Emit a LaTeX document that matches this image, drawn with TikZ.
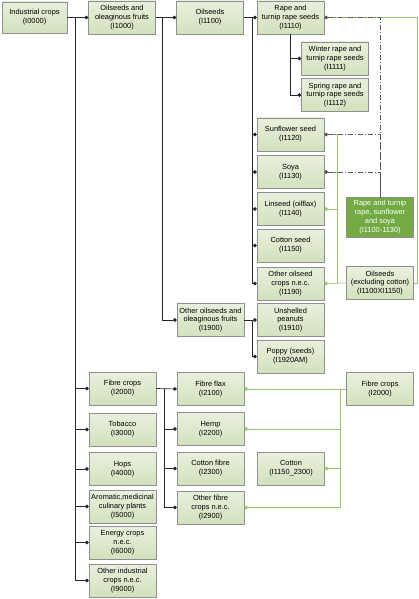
\documentclass[tikz,border=0pt]{standalone}
\usepackage{fontspec}
\setmainfont{Liberation Sans}
\usepackage{xcolor}
\usetikzlibrary{positioning, arrows.meta, shadows}

\definecolor{boxtop}{HTML}{E8F0DD}
\definecolor{boxbot}{HTML}{D2E1BD}
\definecolor{boxline}{HTML}{8F8F8F}
\definecolor{darkbox}{HTML}{74AA44}
\definecolor{linkgreen}{HTML}{98C66C}

\begin{document}
\begin{tikzpicture}[x=1pt, y=-1pt,
    box/.style={draw=boxline, line width=0.7pt, top color=boxtop, bottom color=boxbot,
      minimum width=67pt, minimum height=33pt, inner sep=0.5pt, align=center,
      font=\fontsize{7.4}{8.9}\selectfont,
      drop shadow={shadow xshift=0.8pt, shadow yshift=-0.8pt, fill=black!40, opacity=0.5}},
    sumbox/.style={box, top color=darkbox, bottom color=darkbox, text=white, minimum height=40pt},
    tree/.style={draw=black!85, line width=0.7pt, -{Circle[length=3.6pt]}},
    grn/.style={draw=linkgreen, line width=0.7pt, {Circle[length=3.6pt]}-},
    dd/.style={draw=black!65, line width=0.7pt, dash pattern=on 5pt off 2pt on 1pt off 2pt, {Circle[length=3.6pt]}-}]

      \useasboundingbox (0,0) rectangle (419,599);

      \node[box, minimum width=65pt, minimum height=31pt] (ind) at (34.5,17.5) {Industrial crops\\(I0000)};
      \node[box] (ofr) at (122,17.5) {Oilseeds and\\oleaginous fruits\\(I1000)};
      \node[box] (fib) at (122.5,388.5) {Fibre crops\\(I2000)};
      \node[box] (tob) at (122.5,429.5) {Tobacco\\(I3000)};
      \node[box] (hop) at (122.5,469) {Hops\\(I4000)};
      \node[box] (aro) at (122.5,506.5) {Aromatic,medicinal\\culinary plants\\(I5000)};
      \node[box] (ene) at (122.5,542.5) {Energy crops\\n.e.c.\\(I6000)};
      \node[box] (oic) at (122.5,580.5) {Other industrial\\crops n.e.c.\\(I9000)};

      \node[box] (oil) at (210,17.5) {Oilseeds\\(I1100)};
      \node[box] (oof) at (210.5,320) {Other oilseeds and\\oleaginous fruits\\(I1900)};
      \node[box] (ffl) at (210.5,389) {Fibre flax\\(I2100)};
      \node[box] (hem) at (210.5,429) {Hemp\\(I2200)};
      \node[box] (cfi) at (210.5,468.5) {Cotton fibre\\(I2300)};
      \node[box] (ofc) at (210.5,507.5) {Other fibre\\crops n.e.c.\\(I2900)};

      \node[box] (rap) at (290.5,17.5) {Rape and\\turnip rape seeds\\(I1110)};
      \node[box] (win) at (335,58.5) {Winter rape and\\turnip rape seeds\\(I1111)};
      \node[box] (spr) at (335,95) {Spring rape and\\turnip rape seeds\\(I1112)};
      \node[box] (sun) at (290.5,134.5) {Sunflower seed\\(I1120)};
      \node[box] (soy) at (290.5,172) {Soya\\(I1130)};
      \node[box] (lin) at (290.5,209) {Linseed (oilflax)\\(I1140)};
      \node[box] (cot) at (290.5,245.5) {Cotton seed\\(I1150)};
      \node[box] (ooc) at (290.5,283.5) {Other oilseed\\crops n.e.c.\\(I1190)};
      \node[box] (pea) at (290.5,320) {Unshelled\\peanuts\\(I1910)};
      \node[box] (pop) at (290.5,356.5) {Poppy (seeds)\\(I1920AM)};
      \node[box] (ctn) at (291,468.5) {Cotton\\(I1150\_2300)};

      \node[sumbox] (rts) at (380,217) {Rape and turnip\\rape, sunflower\\and soya\\(I1100-1130)};
      \node[box] (oec) at (380,283) {Oilseeds\\(excluding cotton)\\(I1100XI1150)};
      \node[box] (fcr) at (380,389) {Fibre crops\\(I2000)};

      \coordinate (t1) at (75,17.5);
      \coordinate (t2) at (162,17.5);
      \coordinate (t3) at (252,17.5);
      \coordinate (t5) at (252,320);
      \coordinate (t6) at (164,388.5);

      \draw[tree] (ind.east)--(ofr.west);
      \foreach \c in {fib, tob, hop, aro, ene, oic}
        \draw[tree] (t1) |- (\c.west);

      \draw[tree] (ofr.east)--(oil.west);
      \draw[tree] (t2) |- (oof.west);

      \draw[tree] (oil.east)--(rap.west);
      \foreach \c in {sun, soy, lin, cot, ooc}
        \draw[tree] (t3) |- (\c.west);
      \draw[tree] (rap.south) |- (win.west);
      \draw[tree] (rap.south) |- (spr.west);

      \draw[tree] (oof.east)--(pea.west);
      \draw[tree] (t5) |- (pop.west);

      \draw[tree] (fib.east)--(ffl.west);
      \foreach \c in {hem, cfi, ofc}
        \draw[tree] (t6) |- (\c.west);

      \coordinate (g1) at (337,283);
      \coordinate (g2) at (417,17.5);
      \coordinate (g3) at (340,389);
      \draw[grn] (ooc.east)--(oec.west);
      \foreach \c in {sun, soy, lin}
        \draw[grn] (\c.east) -| (g1);
      \draw[grn] (rap.east)--(g2) |- (oec.east);
      \draw[grn] (ffl.east)--(fcr.west);
      \foreach \c in {hem, ctn, ofc}
        \draw[grn] (\c.east) -| (g3);

      \coordinate (d1) at (380,17.5);
      \draw[dd] (rap.east)--(d1)--(rts.north);
      \draw[dd] (sun.east) -| (rts.north);
      \draw[dd] (soy.east) -| (rts.north);
    \end{tikzpicture}
\end{document}
